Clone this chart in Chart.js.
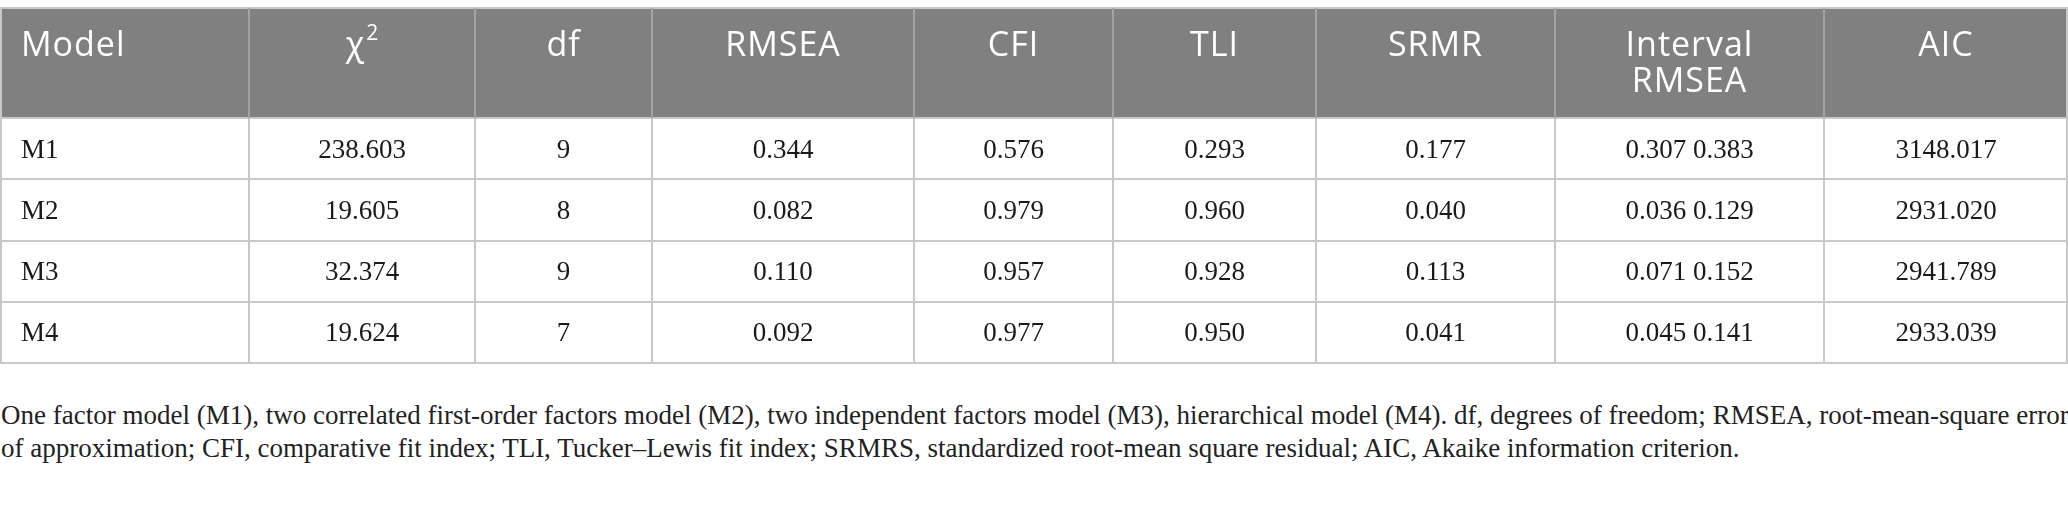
<!DOCTYPE html>
<html lang="en">
<head>
<meta charset="utf-8">
<script src="https://cdn.jsdelivr.net/npm/chart.js@4.4.1/dist/chart.umd.min.js"></script>
<style>
  html, body { margin: 0; padding: 0; background: #fff; }
  #tabla { position: relative; width: 2068px; height: 366px; }
  #nota {
    position: absolute; left: 1px; top: 399px; margin: 0; width: 2068px;
    font-family: "Liberation Serif", serif; font-size: 27px; line-height: 33px;
    color: #222; white-space: nowrap;
  }
</style>
</head>
<body>
<div id="tabla"><canvas id="tablaCanvas"></canvas></div>
<p id="nota">One factor model (M1), two correlated first-order factors model (M2), two independent factors model (M3), hierarchical model (M4). df, degrees of freedom; RMSEA, root-mean-square error<br>of approximation; CFI, comparative fit index; TLI, Tucker–Lewis fit index; SRMRS, standardized root-mean square residual; AIC, Akaike information criterion.</p>

<script>
// ===== Datos =====
const columnas = ["Model", "χ2", "df", "RMSEA", "CFI", "TLI", "SRMR", "Interval\nRMSEA", "AIC"];
const modelos = ["M1", "M2", "M3", "M4"];
const chi2 = [238.603, 19.605, 32.374, 19.624];
const gl = [9, 8, 9, 7];
const rmsea = [0.344, 0.082, 0.110, 0.092];
const cfi = [0.576, 0.979, 0.957, 0.977];
const tli = [0.293, 0.960, 0.928, 0.950];
const srmr = [0.177, 0.040, 0.113, 0.041];
const rmseaInf = [0.307, 0.036, 0.071, 0.045];
const rmseaSup = [0.383, 0.129, 0.152, 0.141];
const aic = [3148.017, 2931.020, 2941.789, 2933.039];

// ===== Layout =====
const anchos = [249, 226, 177, 262, 199, 203, 239, 269, 244];
const FILAS_CABECERA = 1.8;   // alto de cabecera en unidades de fila
const PAD_IZQ = 21;

const f3 = v => Number(v).toFixed(3);
const celdas = [
  modelos,
  chi2.map(f3),
  gl.map(String),
  rmsea.map(f3),
  cfi.map(f3),
  tli.map(f3),
  srmr.map(f3),
  rmseaInf.map((v, i) => `${f3(v)} ${f3(rmseaSup[i])}`),
  aic.map(f3)
];

const bordes = anchos.reduce((acc, w) => { acc.push(acc[acc.length - 1] + w); return acc; }, [0]);
const total = bordes[bordes.length - 1];

const datasets = celdas.map((col, c) => ({
  label: columnas[c],
  data: col.map((txt, r) => ({ x: bordes[c] + anchos[c] / 2, y: FILAS_CABECERA + r + 0.5, txt })),
  pointRadius: 0,
  alinear: c === 0 ? "left" : "center",
  columna: c
}));

const pluginTabla = {
  id: "pluginTabla",
  beforeDatasetsDraw(chart) {
    const { ctx, scales: { x, y } } = chart;
    const top = Math.round(y.getPixelForValue(0));
    const hb = Math.round(y.getPixelForValue(FILAS_CABECERA));
    const bottom = Math.round(y.getPixelForValue(y.max));
    const xs = bordes.map(b => Math.min(Math.max(Math.round(x.getPixelForValue(b)), 1), total - 1));

    ctx.save();
    ctx.fillStyle = "#808080";
    ctx.fillRect(xs[0], top, xs[xs.length - 1] - xs[0], hb - top);

    // lineas horizontales
    ctx.lineWidth = 2;
    ctx.strokeStyle = "#c8c8c8";
    for (let r = 0; r <= modelos.length; r++) {
      const py = Math.round(y.getPixelForValue(FILAS_CABECERA + r));
      ctx.beginPath(); ctx.moveTo(xs[0] - 1, py); ctx.lineTo(xs[xs.length - 1] + 1, py); ctx.stroke();
    }
    ctx.beginPath(); ctx.moveTo(xs[0] - 1, top); ctx.lineTo(xs[xs.length - 1] + 1, top); ctx.stroke();

    // lineas verticales
    xs.forEach((px, i) => {
      const borde = i === 0 || i === xs.length - 1;
      ctx.strokeStyle = borde ? "#c8c8c8" : "#a3a3a3";
      ctx.beginPath(); ctx.moveTo(px, top); ctx.lineTo(px, hb); ctx.stroke();
      ctx.strokeStyle = "#c8c8c8";
      ctx.beginPath(); ctx.moveTo(px, hb); ctx.lineTo(px, bottom); ctx.stroke();
    });

    // cabecera
    ctx.fillStyle = "#ffffff";
    ctx.textBaseline = "alphabetic";
    ctx.letterSpacing = "1px";
    columnas.forEach((lbl, c) => {
      const izq = x.getPixelForValue(bordes[c]);
      const cx = x.getPixelForValue(bordes[c] + anchos[c] / 2);
      const base = top + 48;
      if (lbl === "χ2") {
        ctx.font = "34px 'Open Sans'";
        const wc = ctx.measureText("χ").width;
        ctx.font = "21px 'Open Sans'";
        const w2 = ctx.measureText("2").width;
        const x0 = cx - (wc + w2) / 2;
        ctx.font = "34px 'Open Sans'";
        ctx.textAlign = "left";
        ctx.fillText("χ", x0, base);
        ctx.font = "21px 'Open Sans'";
        ctx.fillText("2", x0 + wc + 1, base - 16);
        return;
      }
      ctx.font = "34px 'Open Sans'";
      ctx.textAlign = c === 0 ? "left" : "center";
      lbl.split("\n").forEach((linea, k) => {
        ctx.fillText(linea, c === 0 ? izq + PAD_IZQ : cx, base + k * 36);
      });
    });
    ctx.restore();
  },
  afterDatasetsDraw(chart) {
    const { ctx, scales: { x } } = chart;
    ctx.save();
    ctx.fillStyle = "#1a1a1a";
    ctx.font = "27px 'Liberation Serif'";
    ctx.textBaseline = "middle";
    chart.data.datasets.forEach((ds, i) => {
      const meta = chart.getDatasetMeta(i);
      ctx.textAlign = ds.alinear;
      meta.data.forEach((pt, j) => {
        const px = ds.alinear === "left" ? x.getPixelForValue(bordes[ds.columna]) + PAD_IZQ : pt.x;
        ctx.fillText(ds.data[j].txt, px, pt.y + 2);
      });
    });
    ctx.restore();
  }
};

new Chart(document.getElementById("tablaCanvas"), {
  type: "scatter",
  data: { datasets },
  options: {
    responsive: true,
    maintainAspectRatio: false,
    animation: false,
    events: [],
    layout: { padding: { top: 8, bottom: 3, left: 0, right: 0 } },
    plugins: { legend: { display: false }, tooltip: { enabled: false } },
    scales: {
      x: { type: "linear", display: false, min: 0, max: total },
      y: { type: "linear", display: false, reverse: true, min: 0, max: FILAS_CABECERA + modelos.length }
    }
  },
  plugins: [pluginTabla]
});
</script>
</body>
</html>
